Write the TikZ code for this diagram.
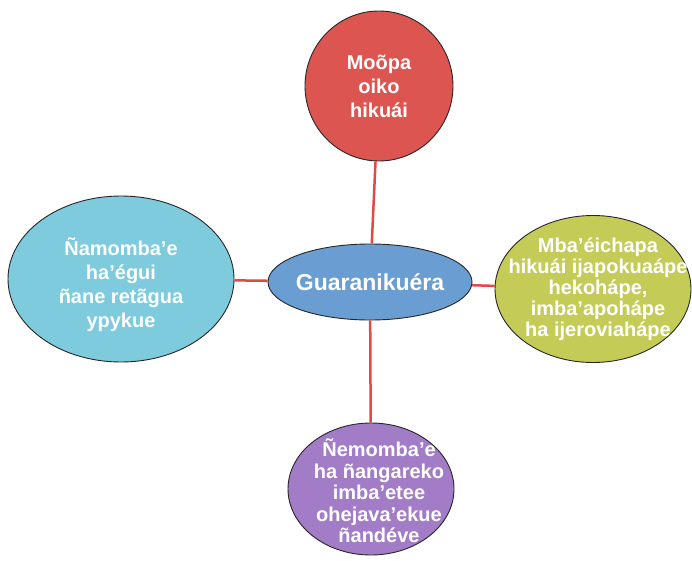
\documentclass[tikz,border=0pt]{standalone}
\usepackage{fontspec}
\setmainfont{Liberation Sans}
\usetikzlibrary{shapes.geometric}
\definecolor{hubblue}{HTML}{6A9ED2}
\definecolor{topred}{HTML}{DC5550}
\definecolor{leftcyan}{HTML}{7DCBDD}
\definecolor{rightolive}{HTML}{C5CB57}
\definecolor{bottompurple}{HTML}{A27CC7}
\definecolor{linkred}{HTML}{E04A45}

\begin{document}
\begin{tikzpicture}[x=1pt,y=-1pt,
  bubble/.style={ellipse,draw=black!85,line width=0.9pt,inner sep=0pt},
  words/.style={align=center,text=white,font=\bfseries\fontsize{20}{24}\selectfont},
  link/.style={draw=linkred,line width=2.5pt}]
\useasboundingbox (0,0) rectangle (692,561);
% outer topics
\node[bubble,fill=topred,minimum width=148pt,minimum height=150pt] (top) at (379,86) {};
\node[words] (toptext) at (top) {Moõpa\\oiko\\hikuái};
\node[bubble,fill=leftcyan,minimum width=226pt,minimum height=166pt] (left) at (121,279) {};
\node[words] (lefttext) at ([yshift=-6pt]left.center) {Ñamomba’e\\ha’égui\\ñane retãgua\\ypykue};
\node[bubble,fill=rightolive,minimum width=196pt,minimum height=147pt] (right) at (593,289) {};
\node[words,font=\bfseries\fontsize{20}{21}\selectfont] (righttext) at ([xshift=5pt]right.center) {Mba’éichapa\\hikuái ijapokuaápe\\hekohápe,\\imba’apohápe\\ha ijeroviahápe};
\node[bubble,fill=bottompurple,minimum width=166pt,minimum height=132pt] (bottom) at (371,489) {};
\node[words,font=\bfseries\fontsize{20}{21.5}\selectfont] (bottomtext) at ([xshift=8pt,yshift=-2pt]bottom.center) {Ñemomba’e\\ha ñangareko\\imba’etee\\ohejava’ekue\\ñandéve};
% centre
\node[bubble,fill=hubblue,minimum width=204pt,minimum height=76pt] (hub) at (370,282) {};
\node[words,font=\bfseries\fontsize{23}{27}\selectfont] (hubtext) at (hub) {Guaranikuéra};
% links
\draw[link] (hub) -- (top);
\draw[link] (hub) -- (left);
\draw[link] (hub) -- (right);
\draw[link] (hub) -- (bottom);
\end{tikzpicture}
\end{document}
